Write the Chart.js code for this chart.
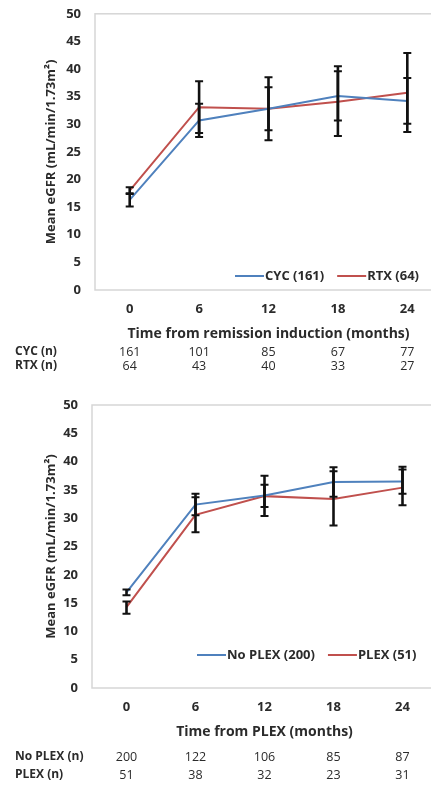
<!DOCTYPE html>
<html>
<head>
<meta charset="utf-8">
<script src="https://cdn.jsdelivr.net/npm/chart.js@4.4.1/dist/chart.umd.min.js"></script>
<style>
  html, body { margin: 0; padding: 0; background: #fff; overflow: hidden; width: 431px; height: 785px; }
  .panel { position: absolute; left: 0; }
  #top { top: 0; }
  #bottom { top: 390px; }
</style>
</head>
<body>
<div class="panel" id="top"><canvas id="chartTop" width="445" height="390"></canvas></div>
<div class="panel" id="bottom"><canvas id="chartBottom" width="445" height="395"></canvas></div>
<script>
const MONTHS = ['0', '6', '12', '18', '24'];

// top panel: induction therapy
const cycMean = [16.3, 30.7, 32.8, 35.1, 34.2];
const cycLow  = [15.1, 27.7, 28.9, 30.7, 30.1];
const cycHigh = [17.5, 33.7, 36.7, 39.6, 38.4];
const rtxMean = [18.0, 33.1, 32.8, 34.1, 35.7];
const rtxLow  = [17.4, 28.4, 27.1, 27.9, 28.6];
const rtxHigh = [18.6, 37.8, 38.5, 40.5, 42.9];
const cycN = [161, 101, 85, 67, 77];
const rtxN = [64, 43, 40, 33, 27];

// bottom panel: plasma exchange
const noPlexMean = [16.9, 32.4, 34.0, 36.4, 36.5];
const noPlexLow  = [16.4, 30.5, 32.0, 33.8, 34.3];
const noPlexHigh = [17.4, 34.3, 35.9, 39.0, 38.6];
const plexMean = [14.3, 30.6, 33.9, 33.4, 35.4];
const plexLow  = [13.1, 27.5, 30.4, 28.7, 32.3];
const plexHigh = [15.3, 33.7, 37.5, 38.3, 39.1];
const noPlexN = [200, 122, 106, 85, 87];
const plexN = [51, 38, 32, 23, 31];

const BLUE = '#4f81bd';
const RED = '#c0504d';
const TEXT = '#2b2b2b';

Chart.defaults.font.family = '"Open Sans", sans-serif';
Chart.defaults.color = TEXT;

const extrasPlugin = {
  id: 'extras',
  beforeDatasetsDraw(chart) {
    const {ctx, chartArea: a} = chart;
    ctx.save();
    ctx.strokeStyle = '#d6d6d6';
    ctx.lineWidth = 1.5;
    ctx.strokeRect(a.left, a.top, a.right - a.left, a.bottom - a.top);
    ctx.restore();
  },
  afterDatasetsDraw(chart) {
    const {ctx, scales: {x, y}} = chart;
    ctx.save();
    ctx.strokeStyle = '#111';
    chart.data.datasets.forEach(ds => {
      ds.errLow.forEach((lo, i) => {
        const px = x.getPixelForValue(i);
        const y1 = y.getPixelForValue(lo);
        const y2 = y.getPixelForValue(ds.errHigh[i]);
        ctx.lineWidth = 2.6;
        ctx.beginPath();
        ctx.moveTo(px, y1); ctx.lineTo(px, y2);
        ctx.stroke();
        ctx.lineWidth = 2;
        ctx.beginPath();
        ctx.moveTo(px - 4, y1); ctx.lineTo(px + 4, y1);
        ctx.moveTo(px - 4, y2); ctx.lineTo(px + 4, y2);
        ctx.stroke();
      });
    });
    ctx.restore();
  },
  afterDraw(chart, args, opts) {
    const {ctx, chartArea: a, scales: {x}} = chart;
    ctx.save();
    ctx.textBaseline = 'middle';

    // legend inside the plot, bottom right
    let lx = opts.legendX;
    const ly = a.bottom - opts.legendLift;
    ctx.font = 'bold 13px "Open Sans"';
    chart.data.datasets.forEach(ds => {
      ctx.strokeStyle = ds.borderColor;
      ctx.lineWidth = 2;
      ctx.beginPath();
      ctx.moveTo(lx, ly); ctx.lineTo(lx + 29, ly);
      ctx.stroke();
      lx += 30;
      ctx.fillStyle = TEXT;
      ctx.textAlign = 'left';
      ctx.fillText(ds.label, lx, ly);
      lx += ctx.measureText(ds.label).width + 13;
    });

    // number at risk under the axis
    opts.rows.forEach(row => {
      const ry = a.bottom + row.dy;
      ctx.fillStyle = TEXT;
      ctx.font = 'bold 12px "Open Sans"';
      ctx.textAlign = 'left';
      ctx.fillText(row.label, 15, ry);
      ctx.font = '12.5px "Open Sans"';
      ctx.textAlign = 'center';
      row.values.forEach((v, i) => ctx.fillText(String(v), x.getPixelForValue(i), ry));
    });
    ctx.restore();
  }
};

function drawPanel(canvasId, series, cfg) {
  return new Chart(document.getElementById(canvasId), {
    type: 'line',
    data: {
      labels: MONTHS,
      datasets: series.map(s => ({
        label: s.label,
        data: s.mean,
        errLow: s.low,
        errHigh: s.high,
        borderColor: s.color,
        backgroundColor: s.color,
        borderWidth: 2,
        pointRadius: 0,
        tension: 0
      }))
    },
    options: {
      responsive: false,
      animation: false,
      layout: { padding: { top: cfg.top, right: cfg.right, bottom: cfg.bottom, left: 0 } },
      plugins: {
        legend: { display: false },
        tooltip: { enabled: false },
        extras: { legendX: cfg.legendX, legendLift: cfg.legendLift, rows: cfg.rows }
      },
      scales: {
        x: {
          offset: true,
          grid: { display: false },
          border: { display: false },
          ticks: { font: { size: 13, weight: 'bold' }, padding: 3 },
          title: { display: true, text: cfg.xTitle, font: { size: 14, weight: 'bold' }, padding: { top: 0, bottom: -2 } },
          afterFit: s => { s.height = cfg.xHeight; }
        },
        y: {
          min: 0,
          max: 50,
          grid: { display: false },
          border: { display: false },
          ticks: { stepSize: 5, font: { size: 13, weight: 'bold' }, padding: 6 },
          title: { display: true, text: 'Mean eGFR (mL/min/1.73m²)', font: { size: 13, weight: 'bold' }, padding: { top: 43, bottom: 0 } },
          afterFit: s => { s.width = cfg.yWidth; }
        }
      }
    },
    plugins: [extrasPlugin]
  });
}

drawPanel('chartTop', [
  { label: 'CYC (161)', mean: cycMean, low: cycLow, high: cycHigh, color: BLUE },
  { label: 'RTX (64)', mean: rtxMean, low: rtxLow, high: rtxHigh, color: RED }
], {
  top: 10, right: 3, bottom: 50, xHeight: 50, yWidth: 95,
  xTitle: 'Time from remission induction (months)',
  legendX: 235, legendLift: 14,
  rows: [
    { label: 'CYC (n)', values: cycN, dy: 62 },
    { label: 'RTX (n)', values: rtxN, dy: 76 }
  ]
});

drawPanel('chartBottom', [
  { label: 'No PLEX (200)', mean: noPlexMean, low: noPlexLow, high: noPlexHigh, color: BLUE },
  { label: 'PLEX (51)', mean: plexMean, low: plexLow, high: plexHigh, color: RED }
], {
  top: 15, right: 8, bottom: 47, xHeight: 50, yWidth: 92,
  xTitle: 'Time from PLEX (months)',
  legendX: 197, legendLift: 33,
  rows: [
    { label: 'No PLEX (n)', values: noPlexN, dy: 69 },
    { label: 'PLEX (n)', values: plexN, dy: 87 }
  ]
});
</script>
</body>
</html>
